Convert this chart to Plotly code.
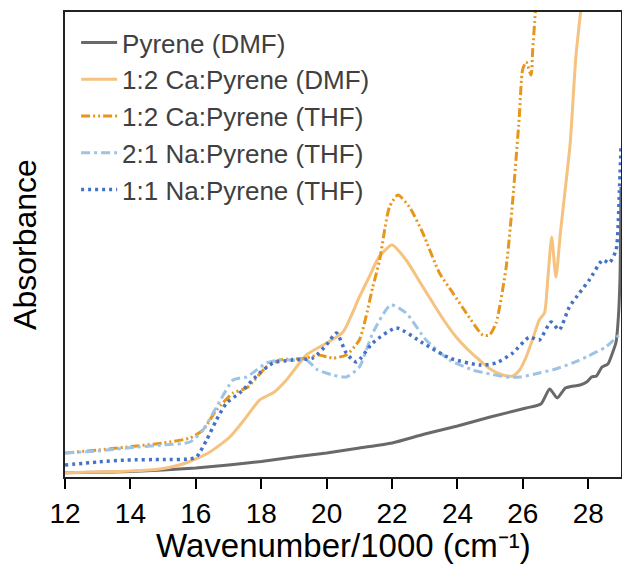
import plotly.graph_objects as go

# ---- data (x = wavenumber/1000 cm^-1, y = absorbance, arbitrary units) ----
pyr_dmf_x = [12, 13, 14, 15, 16, 17, 18, 19, 20, 21, 22, 23, 24, 25, 26.1, 26.55, 26.82,
             27.05, 27.3, 27.55, 27.75, 27.95, 28.1, 28.25, 28.42, 28.6, 28.75, 28.85, 28.92, 28.97, 29.0]
pyr_dmf_y = [0.043, 0.047, 0.055, 0.07, 0.09, 0.12, 0.155, 0.2, 0.24, 0.29, 0.34, 0.43, 0.51, 0.6, 0.69, 0.73, 0.88,
             0.79, 0.89, 0.91, 0.92, 0.95, 1.0, 1.01, 1.1, 1.13, 1.25, 1.35, 1.6, 2.0, 2.9]

ca_dmf_x = [12.0, 13.0, 14.0, 14.9, 15.5, 15.92, 16.43, 17.04, 17.5, 17.95, 18.4, 18.77, 19.38, 20.0, 20.5,
            21.0, 21.3, 21.6, 22.0, 22.43, 22.85, 23.25, 23.6, 23.96, 24.3, 24.67, 25.0, 25.38, 25.69, 25.9,
            26.1, 26.3, 26.5, 26.66, 26.76, 26.88, 27.01, 27.15, 27.32, 27.45, 27.62, 27.85]
ca_dmf_y = [0.043, 0.05, 0.06, 0.08, 0.12, 0.17, 0.25, 0.40, 0.58, 0.77, 0.85, 0.97, 1.22, 1.34, 1.45,
            1.80, 2.0, 2.2, 2.32, 2.17, 1.95, 1.74, 1.56, 1.40, 1.28, 1.17, 1.08, 1.02, 1.01, 1.07,
            1.20, 1.38, 1.57, 1.64, 1.97, 2.40, 2.0, 2.45, 2.95, 3.35, 4.2, 4.9]

ca_thf_x = [12.0, 13.0, 13.88, 15.0, 15.82, 16.22, 16.63, 17.14, 17.55, 18.16, 18.56, 19.0, 19.38, 19.73,
            20.19, 20.6, 21.0, 21.41, 21.62, 21.92, 22.18, 22.53, 22.94, 23.45, 23.86, 24.27, 24.77, 24.98,
            25.18, 25.49, 25.69, 25.89, 25.99, 26.1, 26.25, 26.3, 26.38, 26.45]
ca_thf_y = [0.24, 0.27, 0.30, 0.34, 0.39, 0.47, 0.67, 0.84, 0.89, 1.10, 1.17, 1.18, 1.19, 1.22,
            1.19, 1.22, 1.37, 1.90, 2.17, 2.70, 2.82, 2.70, 2.44, 2.04, 1.84, 1.64, 1.42, 1.42,
            1.54, 2.1, 2.77, 3.6, 4.07, 4.15, 4.02, 4.27, 4.64, 5.0]

na21_x = [12.0, 13.0, 13.88, 15.0, 15.82, 16.22, 16.63, 17.14, 17.35, 17.55, 18.16, 18.56, 19.0, 19.38,
          19.73, 20.19, 20.6, 21.0, 21.41, 21.96, 22.43, 23.04, 23.76, 24.47, 25.0, 25.49, 25.9, 26.5,
          27.0, 27.52, 28.0, 28.53, 29.0]
na21_y = [0.24, 0.26, 0.29, 0.32, 0.35, 0.47, 0.70, 0.97, 0.99, 1.00, 1.14, 1.17, 1.17, 1.17,
          1.07, 1.02, 1.00, 1.10, 1.44, 1.72, 1.64, 1.37, 1.17, 1.07, 1.03, 1.00, 1.00, 1.04,
          1.08, 1.14, 1.21, 1.30, 1.44]

na11_x = [12.0, 13.0, 13.88, 15.0, 15.82, 16.02, 16.33, 16.63, 16.94, 17.34, 17.95, 18.36, 18.97, 19.58,
          19.99, 20.3, 20.6, 20.91, 21.41, 22.13, 22.94, 23.76, 24.67, 25.18, 25.69, 26.2, 26.5, 26.86,
          27.11, 27.42, 27.73, 28.03, 28.44, 28.64, 28.85, 28.95, 29.0]
na11_y = [0.12, 0.15, 0.17, 0.175, 0.18, 0.20, 0.37, 0.57, 0.74, 0.84, 1.04, 1.14, 1.17, 1.19,
          1.32, 1.44, 1.24, 1.15, 1.34, 1.49, 1.34, 1.19, 1.12, 1.14, 1.24, 1.40, 1.37, 1.55,
          1.47, 1.70, 1.84, 1.97, 2.17, 2.14, 2.27, 2.85, 3.3]

x_ticks = [12, 14, 16, 18, 20, 22, 24, 26, 28]

series = [
    ("Pyrene (DMF)", pyr_dmf_x, pyr_dmf_y, "#6b6869", "solid", 3),
    ("1:2 Ca:Pyrene (DMF)", ca_dmf_x, ca_dmf_y, "#f5c27f", "solid", 3),
    ("1:2 Ca:Pyrene (THF)", ca_thf_x, ca_thf_y, "#e8961a", "9px,3px,2px,3px,2px,3px", 3),
    ("2:1 Na:Pyrene (THF)", na21_x, na21_y, "#9dc3e6", "9px,4px,3px,4px", 3),
    ("1:1 Na:Pyrene (THF)", na11_x, na11_y, "#4472c4", "3px,4px", 3.5),
]

FONT = "Liberation Sans, Arial, sans-serif"

fig = go.Figure()
for name, xs, ys, color, dash, w in series:
    fig.add_trace(go.Scatter(
        x=xs, y=ys, name=name, mode="lines",
        line=dict(color=color, dash=dash, width=w, shape="spline", smoothing=0.6),
    ))

fig.update_layout(
    width=622, height=565,
    margin=dict(l=65, r=1, t=12, b=88, autoexpand=False),
    paper_bgcolor="white", plot_bgcolor="white",
    font=dict(family=FONT, color="#000000"),
    showlegend=True,
    legend=dict(
        x=0.02, y=0.985, xanchor="left", yanchor="top",
        bgcolor="rgba(0,0,0,0)", borderwidth=0, itemwidth=36,
        font=dict(family=FONT, size=26, color="#404040"),
    ),
    xaxis=dict(
        range=[12, 29], tickvals=x_ticks, ticks="outside", ticklen=10, tickwidth=2,
        tickcolor="#000", showline=True, linecolor="#222", linewidth=2, mirror=True,
        showgrid=False, zeroline=False, automargin=False,
        tickfont=dict(family=FONT, size=28, color="#000"),
    ),
    yaxis=dict(
        range=[0, 4.65], showticklabels=False, ticks="", showline=True, linecolor="#222",
        linewidth=2, mirror=True, showgrid=False, zeroline=False, automargin=False,
        title=dict(text="Absorbance", font=dict(family=FONT, size=32, color="#000"), standoff=17),
    ),
    annotations=[dict(
        text="Wavenumber/1000 (cm\u207b\u00b9)", xref="paper", yref="paper",
        x=0.5, y=-0.147, xanchor="center", yanchor="middle", showarrow=False,
        font=dict(family=FONT, size=33, color="#000"),
    )],
)

fig.write_html("out.html", post_script="document.body.style.margin='0';",
               config={"displayModeBar": False})
